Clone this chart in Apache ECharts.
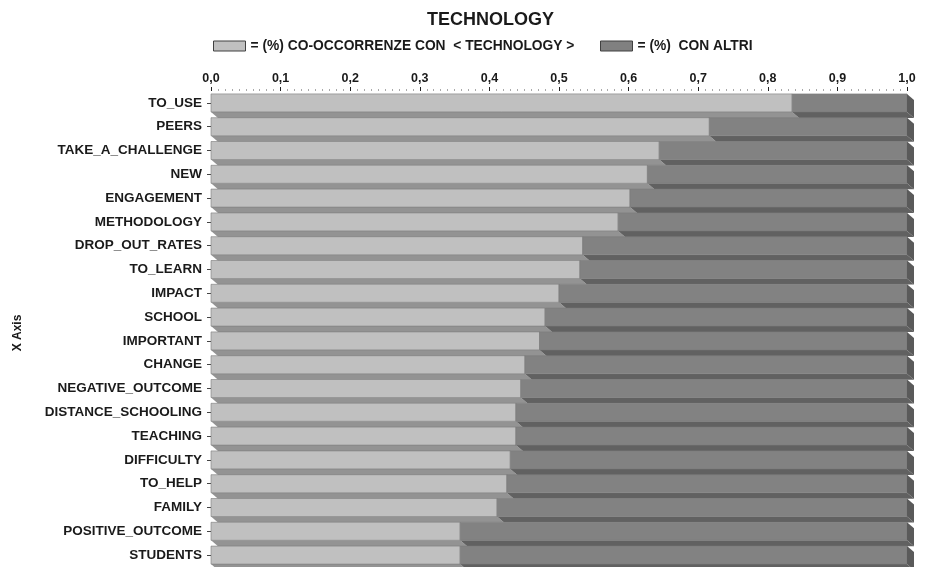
<!DOCTYPE html>
<html>
<head>
<meta charset="utf-8">
<script src="https://cdn.jsdelivr.net/npm/echarts@6/dist/echarts.min.js"></script>
<style>html,body{margin:0;padding:0;background:#fff}#c{width:934px;height:567px}</style>
</head>
<body>
<div id="c"></div>
<script>
var categories = ['TO_USE','PEERS','TAKE_A_CHALLENGE','NEW','ENGAGEMENT','METHODOLOGY','DROP_OUT_RATES','TO_LEARN','IMPACT','SCHOOL','IMPORTANT','CHANGE','NEGATIVE_OUTCOME','DISTANCE_SCHOOLING','TEACHING','DIFFICULTY','TO_HELP','FAMILY','POSITIVE_OUTCOME','STUDENTS'];
var coOccurrence = [0.835,0.716,0.644,0.627,0.602,0.585,0.534,0.530,0.500,0.480,0.472,0.451,0.445,0.438,0.438,0.430,0.425,0.411,0.358,0.358];
var others = [0.165,0.284,0.356,0.373,0.398,0.415,0.466,0.470,0.500,0.520,0.528,0.549,0.555,0.562,0.562,0.570,0.575,0.589,0.642,0.642];
var xTicks = {min: 0, max: 1, interval: 0.1};

var nameA = '= (%) CO-OCCORRENZE CON  < TECHNOLOGY >';
var nameB = '= (%)  CON ALTRI';

var lightData = categories.map(function(c, i){ return [0, coOccurrence[i], i]; });
var darkData = categories.map(function(c, i){ return [coOccurrence[i], coOccurrence[i] + others[i], i]; });

var FACE = 18, DX = 7, DY = 6;
function makeRender(faceCol, stripCol, sideCol){
  return function(params, api){
    var s = api.coord([api.value(0), api.value(2)]);
    var e = api.coord([api.value(1), api.value(2)]);
    var top = s[1] - FACE/2, bot = s[1] + FACE/2;
    var x0 = s[0], x1 = e[0];
    var ch = [
      {type:'polygon', shape:{points:[[x0,bot],[x1,bot],[x1+DX,bot+DY],[x0+DX,bot+DY]]}, style:{fill:stripCol}},
      {type:'rect', shape:{x:x0, y:top, width:x1-x0, height:FACE}, style:{fill:faceCol, stroke:'#7a7a7a', lineWidth:0.6}}
    ];
    if (sideCol) {
      ch.push({type:'polygon', shape:{points:[[x1,top],[x1+DX,top+DY],[x1+DX,bot+DY],[x1,bot]]}, style:{fill:sideCol}});
    }
    return {type:'group', children: ch};
  };
}

var legendText = {fontFamily: 'Liberation Sans', fontWeight: 'bold', fontSize: 13.8, color: '#1a1a1a'};
var chart = echarts.init(document.getElementById('c'), null, {renderer:'canvas'});
chart.setOption({
  animation: false,
  backgroundColor: '#ffffff',
  title: {
    text: 'TECHNOLOGY', left: 422, top: 6,
    textStyle: {fontFamily: 'Liberation Sans', fontWeight: 'bold', fontSize: 18, color: '#1a1a1a'}
  },
  legend: [
    {left: 208, top: 34, itemWidth: 32, itemHeight: 10, textStyle: legendText,
     data: [{name: nameA, icon: 'rect', itemStyle: {color: '#c0c0c0', borderColor: '#404040', borderWidth: 1}}]},
    {left: 595, top: 34, itemWidth: 32, itemHeight: 10, textStyle: legendText,
     data: [{name: nameB, icon: 'rect', itemStyle: {color: '#808080', borderColor: '#404040', borderWidth: 1}}]}
  ],
  grid: {left: 211, top: 91, width: 696, height: 480},
  xAxis: {
    type: 'value', position: 'top', min: xTicks.min, max: xTicks.max, interval: xTicks.interval,
    axisLine: {show: false},
    axisTick: {show: true, length: 4, lineStyle: {color: '#222'}},
    minorTick: {show: true, splitNumber: 10, length: 2, lineStyle: {color: '#aaa'}},
    splitLine: {show: false},
    axisLabel: {
      margin: 6, fontFamily: 'Liberation Sans', fontWeight: 'bold', fontSize: 12.5, color: '#1a1a1a',
      formatter: function(v){ return v.toFixed(1).replace('.', ','); }
    }
  },
  yAxis: {
    type: 'category', inverse: true, data: categories,
    name: 'X Axis', nameLocation: 'middle', nameRotate: 90, nameGap: 187,
    nameTextStyle: {fontFamily: 'Liberation Sans', fontWeight: 'bold', fontSize: 12, color: '#1a1a1a', padding: [0, 8, 0, 0]},
    axisLine: {show: false},
    axisTick: {show: true, alignWithLabel: true, length: 4, lineStyle: {color: '#444'}},
    axisLabel: {margin: 9, fontFamily: 'Liberation Sans', fontWeight: 'bold', fontSize: 13.5, color: '#1a1a1a'}
  },
  series: [
    {name: nameA, type: 'custom', renderItem: makeRender('#c0c0c0', '#939393', null),
     encode: {x: [0, 1], y: 2}, data: lightData, itemStyle: {color: '#c0c0c0'}, z: 2},
    {name: nameB, type: 'custom', renderItem: makeRender('#828282', '#616161', '#5a5a5a'),
     encode: {x: [0, 1], y: 2}, data: darkData, itemStyle: {color: '#808080'}, z: 2}
  ]
});
</script>
</body>
</html>
